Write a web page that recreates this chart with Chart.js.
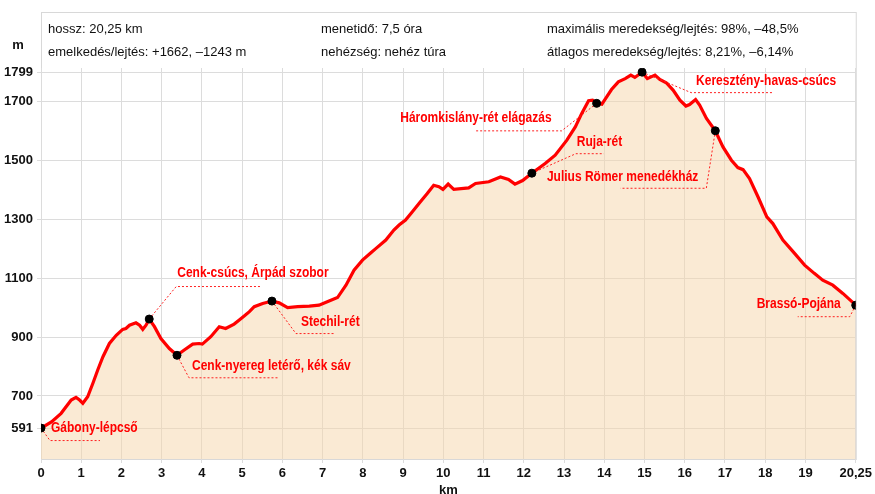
<!DOCTYPE html>
<html>
<head>
<meta charset="utf-8">
<script src="https://cdn.jsdelivr.net/npm/chart.js@4/dist/chart.umd.min.js"></script>
<style>
  body { margin: 0; background: #fff; }
  #wrap { width: 875px; height: 494px; }
</style>
</head>
<body>
<div id="wrap"><canvas id="profil" width="875" height="494"></canvas></div>
<script>
// útvonal magassági profil (km, m)
const kmValues = [0, 0.26, 0.50, 0.75, 0.87, 0.96, 1.04, 1.16, 1.29, 1.41, 1.54, 1.70, 1.87, 2.03, 2.11, 2.20, 2.36, 2.45, 2.53, 2.61, 2.69, 2.82, 2.98, 3.19, 3.38, 3.56, 3.77, 3.93, 4.01, 4.22, 4.43, 4.59, 4.80, 4.92, 5.05, 5.18, 5.30, 5.51, 5.74, 5.92, 6.13, 6.38, 6.67, 6.91, 7.16, 7.37, 7.58, 7.78, 7.99, 8.20, 8.32, 8.57, 8.77, 8.90, 9.06, 9.23, 9.43, 9.60, 9.76, 9.89, 9.99, 10.12, 10.26, 10.63, 10.80, 11.13, 11.42, 11.62, 11.78, 11.97, 12.20, 12.53, 12.78, 13.07, 13.28, 13.44, 13.61, 13.71, 13.81, 13.94, 14.06, 14.18, 14.35, 14.52, 14.66, 14.76, 14.94, 15.07, 15.26, 15.38, 15.54, 15.71, 15.88, 16.03, 16.12, 16.27, 16.37, 16.54, 16.76, 16.95, 17.16, 17.32, 17.45, 17.61, 17.82, 18.04, 18.19, 18.44, 18.73, 18.98, 19.22, 19.43, 19.68, 19.93, 20.25];
const elevValues = [591, 612, 641, 686, 695, 686, 675, 697, 743, 788, 833, 878, 906, 926, 929, 940, 948, 940, 926, 940, 961, 935, 895, 861, 838, 856, 876, 878, 876, 901, 935, 929, 944, 957, 971, 986, 1003, 1014, 1022, 1016, 1000, 1003, 1005, 1008, 1022, 1034, 1076, 1127, 1161, 1186, 1200, 1229, 1263, 1280, 1297, 1325, 1359, 1387, 1415, 1410, 1401, 1419, 1401, 1406, 1421, 1427, 1443, 1435, 1419, 1431, 1456, 1489, 1517, 1568, 1613, 1659, 1702, 1704, 1693, 1690, 1715, 1740, 1766, 1777, 1789, 1781, 1799, 1777, 1789, 1774, 1763, 1738, 1704, 1684, 1689, 1706, 1687, 1642, 1600, 1545, 1500, 1475, 1468, 1438, 1376, 1308, 1285, 1229, 1184, 1144, 1116, 1093, 1076, 1048, 1008];

// nevezetes pontok
const poiKm = [0, 2.69, 3.38, 5.74, 12.20, 13.81, 14.94, 16.76, 20.25];
const poiElev = [591, 961, 838, 1022, 1456, 1693, 1799, 1600, 1008];
const poiNames = ["Gábony-lépcső", "Cenk-csúcs, Árpád szobor", "Cenk-nyereg letérő, kék sáv", "Stechil-rét", "Ruja-rét", "Háromkislány-rét elágazás", "Keresztény-havas-csúcs", "Julius Römer menedékház", "Brassó-Pojána"];

// tengely feliratok
const xTickValues = [0, 1, 2, 3, 4, 5, 6, 7, 8, 9, 10, 11, 12, 13, 14, 15, 16, 17, 18, 19, 20.25];
const yTickValues = [591, 700, 900, 1100, 1300, 1500, 1700, 1799];

const headerCols = [
  ["hossz: 20,25 km", "emelkedés/lejtés: +1662, –1243 m"],
  ["menetidő: 7,5 óra", "nehézség: nehéz túra"],
  ["maximális meredekség/lejtés: 98%, –48,5%", "átlagos meredekség/lejtés: 8,21%, –6,14%"]
];

const FONT = '"Liberation Sans", Arial, sans-serif';

// címkék elhelyezése a pontokhoz képest: szöveg eltolás, igazítás, vezetővonal töréspontjai
const labelLayout = [
  { dx: 10, dy: 0, align: "left", path: [[9, 12], [59, 12]] },
  { dx: 28, dy: -46, align: "left", path: [[27, -33], [112, -33]] },
  { dx: 15, dy: 11, align: "left", path: [[12, 22], [102, 22]] },
  { dx: 29, dy: 21, align: "left", path: [[24, 32], [63, 32]] },
  { dx: 45, dy: -31, align: "left", path: [[44, -20], [72, -20]] },
  { dx: -45, dy: 15, align: "right", path: [[-35, 27], [-122, 27]] },
  { dx: 54, dy: 9, align: "left", path: [[49, 20], [131, 20]] },
  { dx: -17, dy: 46, align: "right", path: [[-9, 57], [-95, 57]] },
  { dx: -15, dy: -1, align: "right", path: [[-6, 11], [-58, 11]] }
];

const keretPlugin = {
  id: "keret",
  beforeDraw(chart) {
    const ctx = chart.ctx;
    const a = chart.chartArea;
    ctx.save();
    ctx.strokeStyle = "#d8d8d8";
    ctx.lineWidth = 1;
    ctx.strokeRect(a.left + 0.5, 12.5, a.right - a.left, a.bottom - 12);
    ctx.fillStyle = "#111";
    ctx.font = "13px " + FONT;
    ctx.textBaseline = "alphabetic";
    const colX = [48, 321, 547];
    headerCols.forEach((col, i) => {
      ctx.fillText(col[0], colX[i], 33);
      ctx.fillText(col[1], colX[i], 56);
    });
    ctx.font = "bold 13px " + FONT;
    ctx.textAlign = "center";
    ctx.textBaseline = "middle";
    ctx.fillText("m", 18, 45);
    ctx.fillText("km", (a.left + a.right) / 2, 490);
    ctx.restore();
  },
  afterDatasetDraw(chart, args) {
    if (args.index !== 1) return;
    const ctx = chart.ctx;
    const xs = chart.scales.x, ys = chart.scales.y;
    ctx.save();
    poiNames.forEach((name, i) => {
      const px = xs.getPixelForValue(poiKm[i]);
      const py = ys.getPixelForValue(poiElev[i]);
      const lay = labelLayout[i];
      // vezetővonal
      ctx.strokeStyle = "#ff2020";
      ctx.lineWidth = 1;
      ctx.setLineDash([2, 2]);
      ctx.beginPath();
      ctx.moveTo(px, py);
      lay.path.forEach(p => ctx.lineTo(px + p[0], py + p[1] + 0.5));
      ctx.stroke();
      ctx.setLineDash([]);
      // felirat (keskenyített)
      ctx.save();
      ctx.translate(px + lay.dx, py + lay.dy);
      ctx.scale(0.8, 1);
      ctx.fillStyle = "#ff0000";
      ctx.font = "bold 15px " + FONT;
      ctx.textAlign = lay.align;
      ctx.textBaseline = "middle";
      ctx.fillText(name, 0, 0);
      ctx.restore();
    });
    ctx.restore();
  }
};

new Chart(document.getElementById("profil").getContext("2d"), {
  type: "line",
  data: {
    datasets: [
      {
        type: "scatter",
        data: poiKm.map((k, i) => ({ x: k, y: poiElev[i] })),
        pointRadius: 4,
        pointBackgroundColor: "#000",
        pointBorderColor: "#000",
        showLine: false
      },
      {
        data: kmValues.map((k, i) => ({ x: k, y: elevValues[i] })),
        borderColor: "#ff0000",
        borderWidth: 3.2,
        backgroundColor: "rgba(245, 213, 170, 0.5)",
        fill: "start",
        tension: 0,
        pointRadius: 0
      }
    ]
  },
  options: {
    responsive: false,
    animation: false,
    layout: { padding: { top: 68, right: 16, left: 0, bottom: 0 } },
    plugins: {
      legend: { display: false },
      tooltip: { enabled: false }
    },
    scales: {
      x: {
        type: "linear",
        min: 0,
        max: 20.25,
        afterBuildTicks: s => { s.ticks = xTickValues.map(v => ({ value: v })); },
        afterFit: s => { s.height = 35; },
        grid: { color: "#dcdcdc", tickLength: 4 },
        border: { display: false },
        ticks: {
          autoSkip: false,
          maxRotation: 0,
          padding: 3,
          color: "#111",
          font: { family: FONT, size: 13, weight: "bold" },
          callback: v => String(v).replace(".", ",")
        }
      },
      y: {
        min: 486,
        max: 1813,
        afterBuildTicks: s => { s.ticks = yTickValues.map(v => ({ value: v })); },
        afterFit: s => { s.width = 41; },
        grid: { color: "#dcdcdc", tickLength: 4 },
        border: { display: false },
        ticks: {
          autoSkip: false,
          padding: 4,
          color: "#111",
          font: { family: FONT, size: 13, weight: "bold" },
          callback: v => String(v)
        }
      }
    }
  },
  plugins: [keretPlugin]
});
</script>
</body>
</html>
